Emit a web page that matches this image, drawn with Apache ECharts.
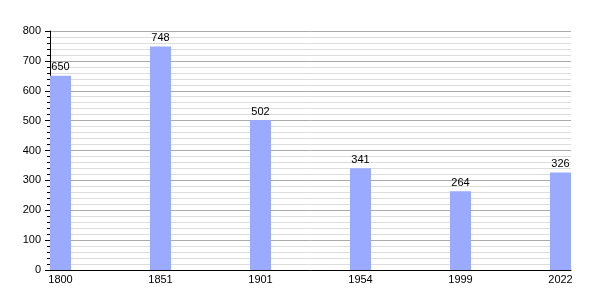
<!DOCTYPE html>
<html><head><meta charset="utf-8">
<script src="https://cdn.jsdelivr.net/npm/echarts@6/dist/echarts.min.js"></script>
<style>html,body{margin:0;padding:0;background:#fff}#c{width:600px;height:300px}</style>
</head><body><div id="c"></div>
<script>
const years = ['1800', '1851', '1901', '1954', '1999', '2022'];
const population = [650, 748, 502, 341, 264, 326];
const yMax = 800;
const yStep = 100;

const chart = echarts.init(document.getElementById('c'), null, {renderer: 'canvas'});
const font = 'Liberation Sans, Arial, sans-serif';
chart.setOption({
  animation: false,
  grid: {left: 50, right: 29, top: 31, bottom: 30, containLabel: false},
  xAxis: {
    type: 'value', min: -0.105, max: 5.105,
    axisLine: {show: true, onZero: false, lineStyle: {color: '#000', width: 1}},
    axisTick: {show: false},
    splitLine: {show: false},
    axisLabel: {
      customValues: years.map((_, i) => i),
      formatter: v => years[Math.round(v)],
      color: '#000', fontFamily: font, fontSize: 11, margin: 4
    }
  },
  yAxis: {
    type: 'value', min: 0, max: yMax, interval: yStep,
    axisLine: {show: true, onZero: false, lineStyle: {color: '#000', width: 1}},
    axisTick: {show: true, inside: false, length: 5, lineStyle: {color: '#000'}},
    minorTick: {show: true, splitNumber: 5, length: 3, lineStyle: {color: '#000'}},
    splitLine: {show: true, lineStyle: {color: '#aaa', width: 1}},
    minorSplitLine: {show: true, lineStyle: {color: '#ddd', width: 1}},
    axisLabel: {color: '#000', fontFamily: font, fontSize: 11, margin: 9}
  },
  series: [{
    type: 'bar',
    data: population.map((v, i) => [i, v]),
    barWidth: 21,
    itemStyle: {color: '#99aaff'},
    label: {show: true, position: 'top', distance: 3, color: '#000', fontFamily: font, fontSize: 11}
  }]
});
</script></body></html>
